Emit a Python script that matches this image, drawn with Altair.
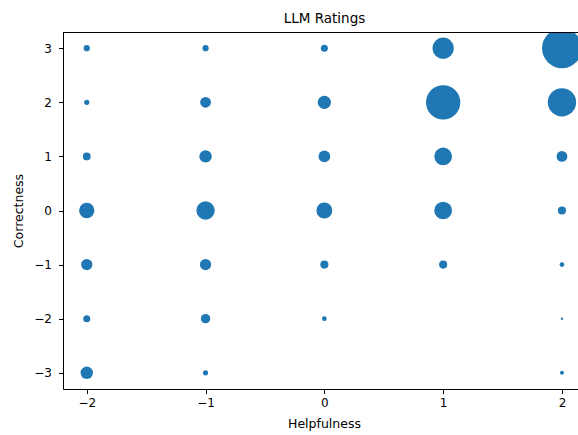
import altair as alt
import pandas as pd

# Rating levels on each axis
helpfulness = [-2, -1, 0, 1, 2]
correctness = [3, 2, 1, 0, -1, -2, -3]

# Number of responses per (correctness, helpfulness) cell, one row per correctness level
counts_c3 = [7, 7, 9, 82, 289]
counts_c2 = [5, 21, 32, 214, 146]
counts_c1 = [11, 28, 25, 57, 21]
counts_c0 = [43, 61, 46, 57, 12]
counts_cm1 = [23, 23, 12, 12, 4]
counts_cm2 = [9, 16, 4, 0, 1]
counts_cm3 = [28, 5, 0, 0, 3]

rows = [counts_c3, counts_c2, counts_c1, counts_c0, counts_cm1, counts_cm2, counts_cm3]
records = []
for c, row in zip(correctness, rows):
    for h, n in zip(helpfulness, row):
        if n > 0:
            records.append({"Helpfulness": h, "Correctness": c, "count": n})
df = pd.DataFrame(records)

W, H = 515, 357
FONT = "DejaVu Sans"
minus_expr = "replace(datum.label, '-', '\u2212')"

points = alt.Chart(df).mark_circle(color="#1f77b4", opacity=1, clip=True).encode(
    x=alt.X(
        "Helpfulness:Q",
        scale=alt.Scale(domain=[-2.2, 2.135], nice=False, zero=False),
        axis=alt.Axis(
            values=helpfulness, grid=False, domainColor="black", tickColor="black",
            domainWidth=1, tickWidth=1, tickSize=4.5, labelPadding=4,
            labelFont=FONT, labelFontSize=12, labelColor="black", labelExpr=minus_expr,
            titleFont=FONT, titleFontSize=12.5, titleFontWeight="normal", titleColor="black",
            titlePadding=9, titleX=261, titleAlign="center",
        ),
    ),
    y=alt.Y(
        "Correctness:Q",
        scale=alt.Scale(domain=[-3.3, 3.3], nice=False, zero=False),
        axis=alt.Axis(
            values=correctness, grid=False, domainColor="black", tickColor="black",
            domainWidth=1, tickWidth=1, tickSize=4.5, labelPadding=7,
            labelFont=FONT, labelFontSize=12, labelColor="black", labelExpr=minus_expr,
            titleFont=FONT, titleFontSize=12.5, titleFontWeight="normal", titleColor="black",
            titlePadding=8,
        ),
    ),
    size=alt.Size("count:Q", scale=alt.Scale(domain=[0, 289], range=[0, 1590]), legend=None),
)

# Top spine of the plot frame
top_spine = alt.Chart(df).mark_rule(color="black", strokeWidth=1).encode(
    x=alt.value(0), x2=alt.value(W), y=alt.value(0.5)
)

chart = alt.layer(points, top_spine).properties(
    width=W,
    height=H,
    title=alt.TitleParams(
        "LLM Ratings", font=FONT, fontSize=13.5, fontWeight="normal", color="black",
        anchor="middle", offset=7, dx=4,
    ),
    autosize=alt.AutoSizeParams(type="none"),
    padding={"left": 63, "top": 32, "right": 0, "bottom": 46},
).configure_view(stroke=None).configure(background="white")

chart.save("out.html", embed_options={"renderer": "svg", "actions": False})
